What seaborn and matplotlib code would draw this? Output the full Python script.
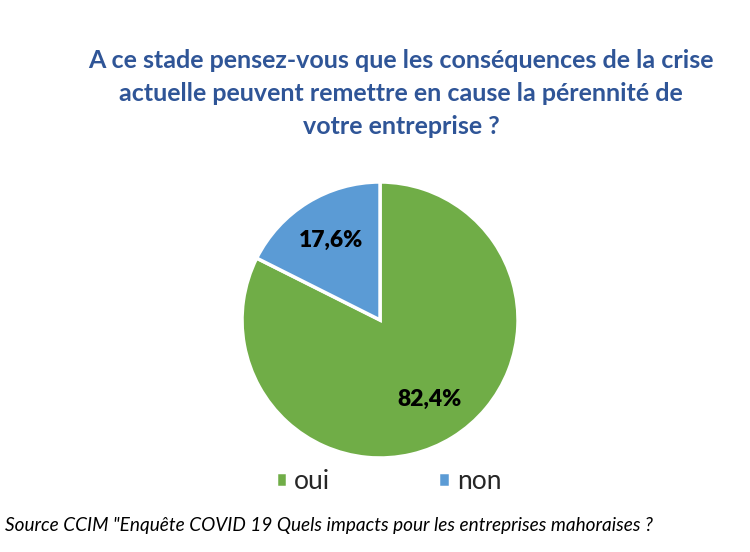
import matplotlib
matplotlib.use("Agg")
import matplotlib.pyplot as plt
import seaborn as sns

# data
categories = ["oui", "non"]
shares = [82.4, 17.6]
colors = ["#70AD47", "#5B9BD5"]
title = ("A ce stade pensez-vous que les conséquences de la crise\n"
         "actuelle peuvent remettre en cause la pérennité de\n"
         "votre entreprise ?")
source = 'Source CCIM "Enquête COVID 19 Quels impacts pour les entreprises mahoraises ?'

sns.set_theme(style="white")
plt.rcParams['font.family'] = ['Lato', 'DejaVu Sans']

fig = plt.figure(figsize=(7.5, 5.52), dpi=100)
fig.patch.set_facecolor("white")

fig.text(0.535, 0.912, title, ha="center", va="top", fontsize=18,
         fontweight="bold", color="#2F5597", linespacing=1.55)

ax = fig.add_axes([0.3227, 0.1703, 0.368, 0.5])
wedges, texts, autotexts = ax.pie(
    shares, colors=colors, startangle=90, counterclock=False,
    autopct=lambda p: f"{p:.1f}%".replace(".", ","), pctdistance=0.68,
    wedgeprops=dict(edgecolor="white", linewidth=2.5),
    textprops=dict(fontsize=16.5, fontweight="heavy", color="black"))
ax.set_xlim(-1.0, 1.0)
ax.set_ylim(-1.0, 1.0)
ax.set_aspect("equal")

leg = fig.legend(wedges, categories, loc="center", bbox_to_anchor=(0.518, 0.128),
                 ncol=2, frameon=False, fontsize=19, handlelength=0.45,
                 handleheight=0.45, handletextpad=0.25, columnspacing=4.1)

fig.text(0.007, 0.048, source, ha="left", va="center", fontsize=13.7,
         style="italic", color="black")

fig.savefig("out.png", dpi=100)
